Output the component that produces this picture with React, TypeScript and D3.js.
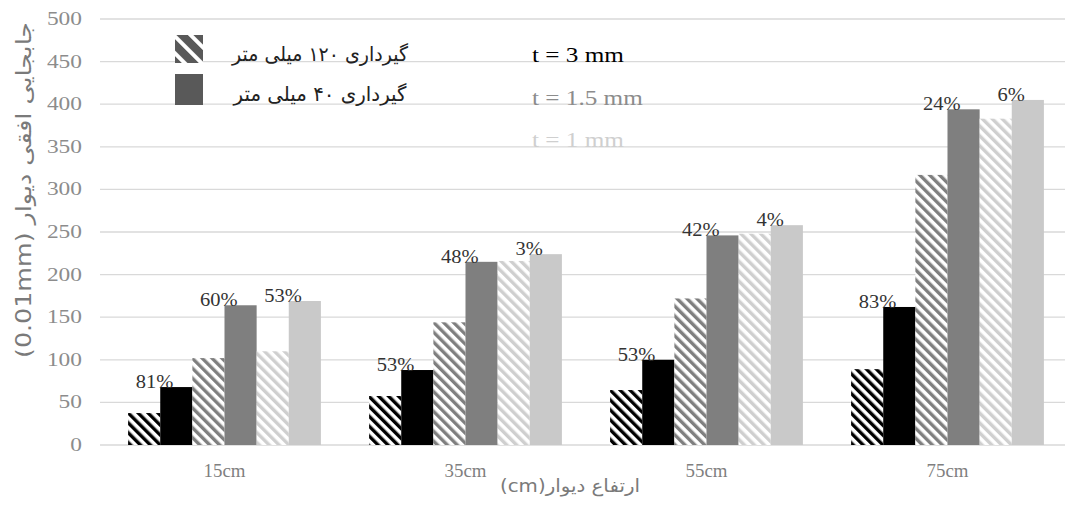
import React from "react";
import * as d3 from "d3";

// Wall heights (categories)
const categories = ["15cm", "35cm", "55cm", "75cm"];

// Horizontal wall displacement (0.01 mm) per series
const fix120_t3 = [37.5, 57.5, 64.5, 89];
const fix40_t3 = [68, 88, 100, 162];
const fix120_t15 = [102, 144, 172, 317];
const fix40_t15 = [164, 215, 246, 394];
const fix120_t1 = [110, 216, 248, 383];
const fix40_t1 = [169, 224, 258, 405];

// Percent increase labels on the 40 mm fixity bars
const pct_t3 = ["81%", "53%", "53%", "83%"];
const pct_t15 = ["60%", "48%", "42%", "24%"];
const pct_t1 = ["53%", "3%", "4%", "6%"];

const yTicks = [0, 50, 100, 150, 200, 250, 300, 350, 400, 450, 500];

const fixityLabels = ["گیرداری ۱۲۰ میلی متر", "گیرداری ۴۰ میلی متر"];
const thicknessLabels = ["t = 3 mm", "t = 1.5 mm", "t = 1 mm"];
const thicknessColors = ["#000000", "#8c8c8c", "#cfcfcf"];

const yTitle = "جابجایی افقی دیوار (0.01mm)";
const xTitle = "ارتفاع دیوار(cm)";

const W = 1065;
const H = 506;

type Series = {
  key: string;
  values: number[];
  fill: string;
  labels?: string[];
};

const series: Series[] = [
  { key: "h3", values: fix120_t3, fill: "url(#hatchBlack)" },
  { key: "s3", values: fix40_t3, fill: "#000000", labels: pct_t3 },
  { key: "h15", values: fix120_t15, fill: "url(#hatchGray)" },
  { key: "s15", values: fix40_t15, fill: "#7f7f7f", labels: pct_t15 },
  { key: "h1", values: fix120_t1, fill: "url(#hatchLight)" },
  { key: "s1", values: fix40_t1, fill: "#c9c9c9", labels: pct_t1 },
];

const serif = "'Liberation Serif', 'Times New Roman', serif";
const arabic = "'DejaVu Sans', sans-serif";

function SText(props: {
  x: number;
  y: number;
  sx?: number;
  anchor?: string;
  size: number;
  fill: string;
  family?: string;
  children: React.ReactNode;
}) {
  const { x, y, sx = 1, anchor = "start", size, fill, family = serif, children } = props;
  return (
    <g transform={`translate(${x},${y}) scale(${sx},1)`}>
      <text textAnchor={anchor} fontSize={size} fill={fill} fontFamily={family}>
        {children}
      </text>
    </g>
  );
}

function Hatch({ id, color, period, stroke, bg }: { id: string; color: string; period: number; stroke: number; bg: string }) {
  return (
    <pattern id={id} patternUnits="userSpaceOnUse" width={period} height={period} patternTransform="rotate(-45)">
      <rect width={period} height={period} fill={bg} />
      <rect x={0} y={0} width={stroke} height={period} fill={color} />
    </pattern>
  );
}

export default function App() {
  const x = d3.scaleBand<string>().domain(categories).range([104, 1068]).paddingInner(0.2).paddingOuter(0.1);
  const inner = d3.scaleBand<string>().domain(series.map((s) => s.key)).range([0, x.bandwidth()]);
  const y = d3.scaleLinear().domain([0, 500]).range([445, 19]);

  return (
    <svg width={W} height={H} style={{ position: "absolute", left: 0, top: 0, background: "#fff" }}>
      <defs>
        <Hatch id="hatchBlack" color="#000" period={7} stroke={3.4} bg="#fff" />
        <Hatch id="hatchGray" color="#7f7f7f" period={7} stroke={3.4} bg="#fff" />
        <Hatch id="hatchLight" color="#cfcfcf" period={7} stroke={3.4} bg="#fff" />
        <Hatch id="hatchLegend" color="#fff" period={12} stroke={4} bg="#595959" />
      </defs>
      <rect width={W} height={H} fill="#fff" />

      {/* gridlines */}
      {yTicks.map((t) => (
        <line key={t} x1={100} x2={W} y1={y(t)} y2={y(t)} stroke="#d9d9d9" strokeWidth={1.3} />
      ))}

      {/* y tick labels */}
      {yTicks.map((t) => (
        <SText key={t} x={82} y={y(t) + 6} sx={1.3} anchor="end" size={18} fill="#8c8c8c">
          {t}
        </SText>
      ))}

      {/* bars */}
      {series.map((s) => (
        <g key={s.key}>
          {categories.map((c, i) => {
            const bx = (x(c) ?? 0) + (inner(s.key) ?? 0);
            const by = y(s.values[i]);
            return (
              <rect key={c} x={bx} y={by} width={inner.bandwidth()} height={y(0) - by} fill={s.fill} />
            );
          })}
        </g>
      ))}

      {/* percentage labels */}
      {series
        .filter((s) => s.labels)
        .map((s) => (
          <g key={s.key + "-lbl"}>
            {categories.map((c, i) => {
              const cx = (x(c) ?? 0) + (inner(s.key) ?? 0) + inner.bandwidth() / 2;
              return (
                <SText key={c} x={cx - 3} y={y(s.values[i]) + 1} sx={1.08} anchor="end" size={19} fill="#333">
                  {s.labels![i]}
                </SText>
              );
            })}
          </g>
        ))}

      {/* x tick labels */}
      {categories.map((c) => (
        <SText key={c} x={(x(c) ?? 0) + x.bandwidth() / 2} y={477} sx={1.05} anchor="middle" size={18} fill="#7f7f7f">
          {c}
        </SText>
      ))}

      {/* axis titles */}
      <text
        x={570}
        y={492}
        textAnchor="middle"
        direction="rtl"
        fontSize={18}
        fill="#7a7a7a"
        fontFamily={arabic}
        textLength={140}
        lengthAdjust="spacingAndGlyphs"
      >
        {xTitle}
      </text>
      <text
        transform="translate(31,190) rotate(-90)"
        textAnchor="middle"
        direction="rtl"
        fontSize={21}
        fill="#7a7a7a"
        fontFamily={arabic}
        textLength={336}
        lengthAdjust="spacingAndGlyphs"
      >
        {yTitle}
      </text>

      {/* legend: fixity */}
      <rect x={175} y={35} width={28} height={28} fill="url(#hatchLegend)" />
      <rect x={175} y={74} width={28} height={31} fill="#595959" />
      {fixityLabels.map((l, i) => (
        <text
          key={l}
          x={320}
          y={61 + i * 40}
          textAnchor="middle"
          direction="rtl"
          fontSize={20}
          fill="#222"
          fontFamily={arabic}
          textLength={i === 0 ? 176 : 173}
          lengthAdjust="spacingAndGlyphs"
        >
          {l}
        </text>
      ))}

      {/* legend: thickness */}
      {thicknessLabels.map((l, i) => (
        <SText key={l} x={532} y={62 + i * 42.5} sx={1.2} size={21} fill={thicknessColors[i]}>
          {l}
        </SText>
      ))}
    </svg>
  );
}
